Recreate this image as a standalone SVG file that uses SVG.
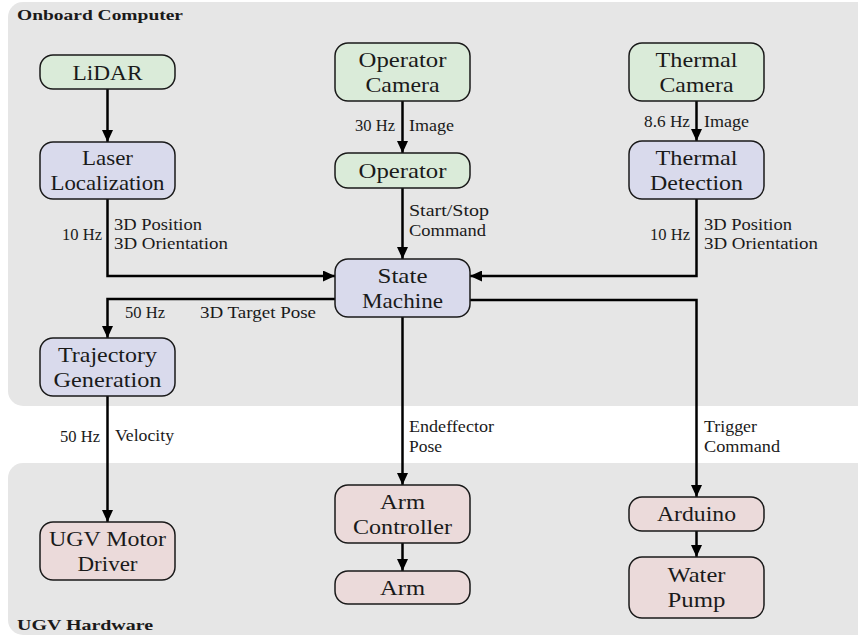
<svg xmlns="http://www.w3.org/2000/svg" width="858" height="636" viewBox="0 0 858 636">
<style>
.bg{fill:#e6e6e6}
.box{stroke:#1a1a1a;stroke-width:1.5}
.g{fill:#daebd9}
.b{fill:#d9daec}
.p{fill:#ebdada}
.n{font-family:"Liberation Serif",serif;font-size:22px;fill:#1a1a1a;text-anchor:middle}
.e{font-family:"Liberation Serif",serif;font-size:16.5px;fill:#1a1a1a}
.r{text-anchor:end}
.t{font-family:"Liberation Serif",serif;font-size:15px;font-weight:bold;fill:#1a1a1a}
.c{fill:none;stroke:#000;stroke-width:2.5}
</style>
<defs>
<marker id="ah" markerUnits="userSpaceOnUse" markerWidth="12" markerHeight="11" refX="12" refY="5.5" orient="auto">
<path d="M0,0 L12,5.5 L0,11 z" fill="#000"/>
</marker>
</defs>
<g id="regions">
<rect class="bg" x="8" y="2" width="880" height="404" rx="15"/>
<rect class="bg" x="8" y="463" width="880" height="172" rx="15"/>
<text class="t" x="17" y="20" textLength="166" lengthAdjust="spacingAndGlyphs">Onboard Computer</text>
<text class="t" x="17" y="630" textLength="136" lengthAdjust="spacingAndGlyphs">UGV Hardware</text>
</g>
<g id="connectors">
<path class="c" d="M107.5,89 V142" marker-end="url(#ah)"/>
<path class="c" d="M402.5,101 V153" marker-end="url(#ah)"/>
<path class="c" d="M696.5,101 V141" marker-end="url(#ah)"/>
<path class="c" d="M402.5,188 V259" marker-end="url(#ah)"/>
<path class="c" d="M107.5,199 V276 H335" marker-end="url(#ah)"/>
<path class="c" d="M696.5,199 V276 H470" marker-end="url(#ah)"/>
<path class="c" d="M335,299 H107.5 V338" marker-end="url(#ah)"/>
<path class="c" d="M470,300 H696.5 V497" marker-end="url(#ah)"/>
<path class="c" d="M402.5,317 V485" marker-end="url(#ah)"/>
<path class="c" d="M107.5,396 V522" marker-end="url(#ah)"/>
<path class="c" d="M402.5,543 V571" marker-end="url(#ah)"/>
<path class="c" d="M696.5,531 V557" marker-end="url(#ah)"/>
<text class="e r" x="395" y="131" textLength="40" lengthAdjust="spacingAndGlyphs">30 Hz</text>
<text class="e" x="409" y="131" textLength="45" lengthAdjust="spacingAndGlyphs">Image</text>
<text class="e r" x="690" y="127" textLength="46" lengthAdjust="spacingAndGlyphs">8.6 Hz</text>
<text class="e" x="704" y="127" textLength="45" lengthAdjust="spacingAndGlyphs">Image</text>
<text class="e r" x="102" y="240" textLength="40" lengthAdjust="spacingAndGlyphs">10 Hz</text>
<text class="e" x="114" y="230" textLength="88" lengthAdjust="spacingAndGlyphs">3D Position</text>
<text class="e" x="114" y="249" textLength="114" lengthAdjust="spacingAndGlyphs">3D Orientation</text>
<text class="e r" x="690" y="240" textLength="40" lengthAdjust="spacingAndGlyphs">10 Hz</text>
<text class="e" x="704" y="230" textLength="88" lengthAdjust="spacingAndGlyphs">3D Position</text>
<text class="e" x="704" y="249" textLength="114" lengthAdjust="spacingAndGlyphs">3D Orientation</text>
<text class="e" x="409" y="216" textLength="80" lengthAdjust="spacingAndGlyphs">Start/Stop</text>
<text class="e" x="409" y="236" textLength="77" lengthAdjust="spacingAndGlyphs">Command</text>
<text class="e" x="125" y="318" textLength="40" lengthAdjust="spacingAndGlyphs">50 Hz</text>
<text class="e" x="200" y="318" textLength="116" lengthAdjust="spacingAndGlyphs">3D Target Pose</text>
<text class="e" x="409" y="432" textLength="85" lengthAdjust="spacingAndGlyphs">Endeffector</text>
<text class="e" x="409" y="452" textLength="33" lengthAdjust="spacingAndGlyphs">Pose</text>
<text class="e" x="704" y="432" textLength="53" lengthAdjust="spacingAndGlyphs">Trigger</text>
<text class="e" x="704" y="452" textLength="76" lengthAdjust="spacingAndGlyphs">Command</text>
<text class="e r" x="100" y="442" textLength="40" lengthAdjust="spacingAndGlyphs">50 Hz</text>
<text class="e" x="115" y="441" textLength="59" lengthAdjust="spacingAndGlyphs">Velocity</text>
</g>
<g id="lidar"><rect class="box g" x="40" y="55" width="135" height="34" rx="13"/><text class="n" x="107.5" y="80" textLength="70" lengthAdjust="spacingAndGlyphs">LiDAR</text></g>
<g id="laser-localization"><rect class="box b" x="40" y="142" width="135" height="57" rx="13"/><text class="n" x="107.5" y="165" textLength="51" lengthAdjust="spacingAndGlyphs">Laser</text><text class="n" x="107.5" y="190" textLength="114" lengthAdjust="spacingAndGlyphs">Localization</text></g>
<g id="operator-camera"><rect class="box g" x="335" y="43" width="135" height="58" rx="13"/><text class="n" x="402.5" y="66.5" textLength="88" lengthAdjust="spacingAndGlyphs">Operator</text><text class="n" x="402.5" y="91.5" textLength="74" lengthAdjust="spacingAndGlyphs">Camera</text></g>
<g id="operator"><rect class="box g" x="335" y="153" width="135" height="35" rx="13"/><text class="n" x="402.5" y="177.5" textLength="88" lengthAdjust="spacingAndGlyphs">Operator</text></g>
<g id="thermal-camera"><rect class="box g" x="629" y="43" width="135" height="58" rx="13"/><text class="n" x="696.5" y="66.5" textLength="82" lengthAdjust="spacingAndGlyphs">Thermal</text><text class="n" x="696.5" y="91.5" textLength="74" lengthAdjust="spacingAndGlyphs">Camera</text></g>
<g id="thermal-detection"><rect class="box b" x="629" y="141" width="135" height="58" rx="13"/><text class="n" x="696.5" y="164.5" textLength="82" lengthAdjust="spacingAndGlyphs">Thermal</text><text class="n" x="696.5" y="189.5" textLength="93" lengthAdjust="spacingAndGlyphs">Detection</text></g>
<g id="state-machine"><rect class="box b" x="335" y="259" width="135" height="58" rx="13"/><text class="n" x="402.5" y="282.5" textLength="50" lengthAdjust="spacingAndGlyphs">State</text><text class="n" x="402.5" y="307.5" textLength="81" lengthAdjust="spacingAndGlyphs">Machine</text></g>
<g id="trajectory-generation"><rect class="box b" x="40" y="338" width="135" height="58" rx="13"/><text class="n" x="107.5" y="361.5" textLength="99" lengthAdjust="spacingAndGlyphs">Trajectory</text><text class="n" x="107.5" y="386.5" textLength="108" lengthAdjust="spacingAndGlyphs">Generation</text></g>
<g id="ugv-motor-driver"><rect class="box p" x="40" y="522" width="135" height="58" rx="13"/><text class="n" x="107.5" y="545.5" textLength="117" lengthAdjust="spacingAndGlyphs">UGV Motor</text><text class="n" x="107.5" y="570.5" textLength="60" lengthAdjust="spacingAndGlyphs">Driver</text></g>
<g id="arm-controller"><rect class="box p" x="335" y="485" width="135" height="58" rx="13"/><text class="n" x="402.5" y="508.5" textLength="45" lengthAdjust="spacingAndGlyphs">Arm</text><text class="n" x="402.5" y="533.5" textLength="99" lengthAdjust="spacingAndGlyphs">Controller</text></g>
<g id="arm"><rect class="box p" x="335" y="571" width="135" height="33" rx="13"/><text class="n" x="402.5" y="594.5" textLength="45" lengthAdjust="spacingAndGlyphs">Arm</text></g>
<g id="arduino"><rect class="box p" x="629" y="497" width="135" height="34" rx="13"/><text class="n" x="696.5" y="521" textLength="79" lengthAdjust="spacingAndGlyphs">Arduino</text></g>
<g id="water-pump"><rect class="box p" x="629" y="557" width="135" height="61" rx="13"/><text class="n" x="696.5" y="582" textLength="58" lengthAdjust="spacingAndGlyphs">Water</text><text class="n" x="696.5" y="607" textLength="58" lengthAdjust="spacingAndGlyphs">Pump</text></g>
</svg>
